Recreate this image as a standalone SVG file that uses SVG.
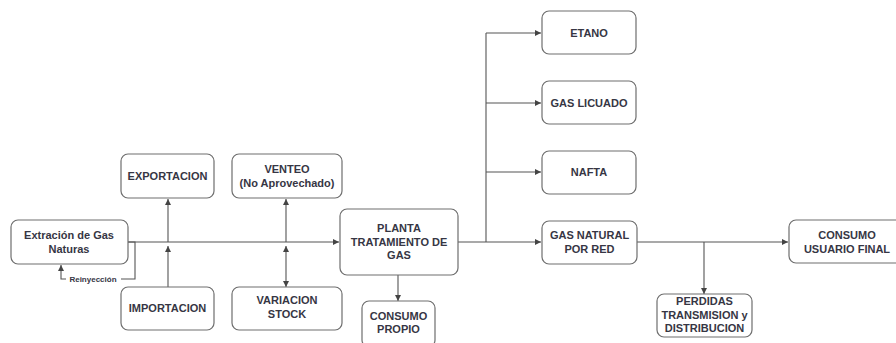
<svg xmlns="http://www.w3.org/2000/svg" width="896" height="343" viewBox="0 0 896 343">
<defs>
<marker id="ah" viewBox="0 0 10 10" refX="10" refY="5" markerWidth="7" markerHeight="6" markerUnits="userSpaceOnUse" orient="auto-start-reverse">
<path d="M0,0 L10,5 L0,10 z" fill="#444"/>
</marker>
<style>
.box{fill:#fff;stroke:#6e6e6e;stroke-width:1.2}
.t{font-family:"Liberation Sans",Arial,sans-serif;font-weight:bold;font-size:11px;fill:#363644;text-anchor:middle}
.s{font-family:"Liberation Sans",Arial,sans-serif;font-weight:bold;font-size:8px;fill:#363644;text-anchor:middle}
.c{fill:none;stroke:#555;stroke-width:1.1}
</style>
</defs>
<rect width="896" height="343" fill="#fff"/>
<g id="connectors">
<line class="c" x1="128" y1="242" x2="339" y2="242" marker-end="url(#ah)"/>
<polyline class="c" points="128,242 135,242 135,279 121,279"/>
<polyline class="c" points="66,279 61,279 61,265" marker-end="url(#ah)"/>
<line class="c" x1="168" y1="242" x2="168" y2="199" marker-end="url(#ah)"/>
<line class="c" x1="168" y1="287" x2="168" y2="246" marker-end="url(#ah)"/>
<line class="c" x1="286" y1="242" x2="286" y2="199" marker-end="url(#ah)"/>
<line class="c" x1="286" y1="246" x2="286" y2="287" marker-start="url(#ah)" marker-end="url(#ah)"/>
<line class="c" x1="458" y1="242" x2="541" y2="242" marker-end="url(#ah)"/>
<line class="c" x1="486" y1="242" x2="486" y2="33"/>
<line class="c" x1="486" y1="33" x2="541" y2="33" marker-end="url(#ah)"/>
<line class="c" x1="486" y1="103" x2="541" y2="103" marker-end="url(#ah)"/>
<line class="c" x1="486" y1="172" x2="541" y2="172" marker-end="url(#ah)"/>
<line class="c" x1="398" y1="275" x2="398" y2="301" marker-end="url(#ah)"/>
<line class="c" x1="637" y1="242" x2="788" y2="242" marker-end="url(#ah)"/>
<line class="c" x1="704" y1="242" x2="704" y2="294" marker-end="url(#ah)"/>
<text class="s" x="93" y="282">Reinyección</text>
</g>
<g id="extraccion">
<rect class="box" x="11" y="220" width="117" height="44" rx="7"/>
<text class="t" x="69" y="239">Extración de Gas</text>
<text class="t" x="69" y="253">Naturas</text>
</g>
<g id="exportacion">
<rect class="box" x="121" y="154" width="93" height="44" rx="7"/>
<text class="t" x="167.5" y="180">EXPORTACION</text>
</g>
<g id="importacion">
<rect class="box" x="121" y="287" width="93" height="43" rx="7"/>
<text class="t" x="167.5" y="312">IMPORTACION</text>
</g>
<g id="venteo">
<rect class="box" x="232" y="154" width="110" height="44" rx="7"/>
<text class="t" x="287" y="173">VENTEO</text>
<text class="t" x="287" y="187">(No Aprovechado)</text>
</g>
<g id="variacion">
<rect class="box" x="232" y="287" width="110" height="43" rx="7"/>
<text class="t" x="287" y="304">VARIACION</text>
<text class="t" x="287" y="318">STOCK</text>
</g>
<g id="planta">
<rect class="box" x="340" y="209" width="118" height="66" rx="7"/>
<text class="t" x="399" y="232">PLANTA</text>
<text class="t" x="399" y="246">TRATAMIENTO DE</text>
<text class="t" x="399" y="259">GAS</text>
</g>
<g id="consumo-propio">
<rect class="box" x="362" y="301" width="73" height="46" rx="7"/>
<text class="t" x="398.5" y="320">CONSUMO</text>
<text class="t" x="398.5" y="333">PROPIO</text>
</g>
<g id="etano">
<rect class="box" x="542" y="11" width="94" height="43" rx="7"/>
<text class="t" x="589" y="37">ETANO</text>
</g>
<g id="gas-licuado">
<rect class="box" x="542" y="81" width="94" height="43" rx="7"/>
<text class="t" x="589" y="107">GAS LICUADO</text>
</g>
<g id="nafta">
<rect class="box" x="542" y="151" width="94" height="43" rx="7"/>
<text class="t" x="589" y="176">NAFTA</text>
</g>
<g id="gas-natural">
<rect class="box" x="542" y="221" width="95" height="43" rx="7"/>
<text class="t" x="589.5" y="239">GAS NATURAL</text>
<text class="t" x="589.5" y="253">POR RED</text>
</g>
<g id="perdidas">
<rect class="box" x="657" y="294" width="95" height="43" rx="7"/>
<text class="t" x="704.5" y="305">PERDIDAS</text>
<text class="t" x="704.5" y="319">TRANSMISION y</text>
<text class="t" x="704.5" y="332">DISTRIBUCION</text>
</g>
<g id="consumo-final">
<rect class="box" x="789" y="220" width="116" height="43" rx="7"/>
<text class="t" x="847" y="239">CONSUMO</text>
<text class="t" x="847" y="253">USUARIO FINAL</text>
</g>
</svg>
